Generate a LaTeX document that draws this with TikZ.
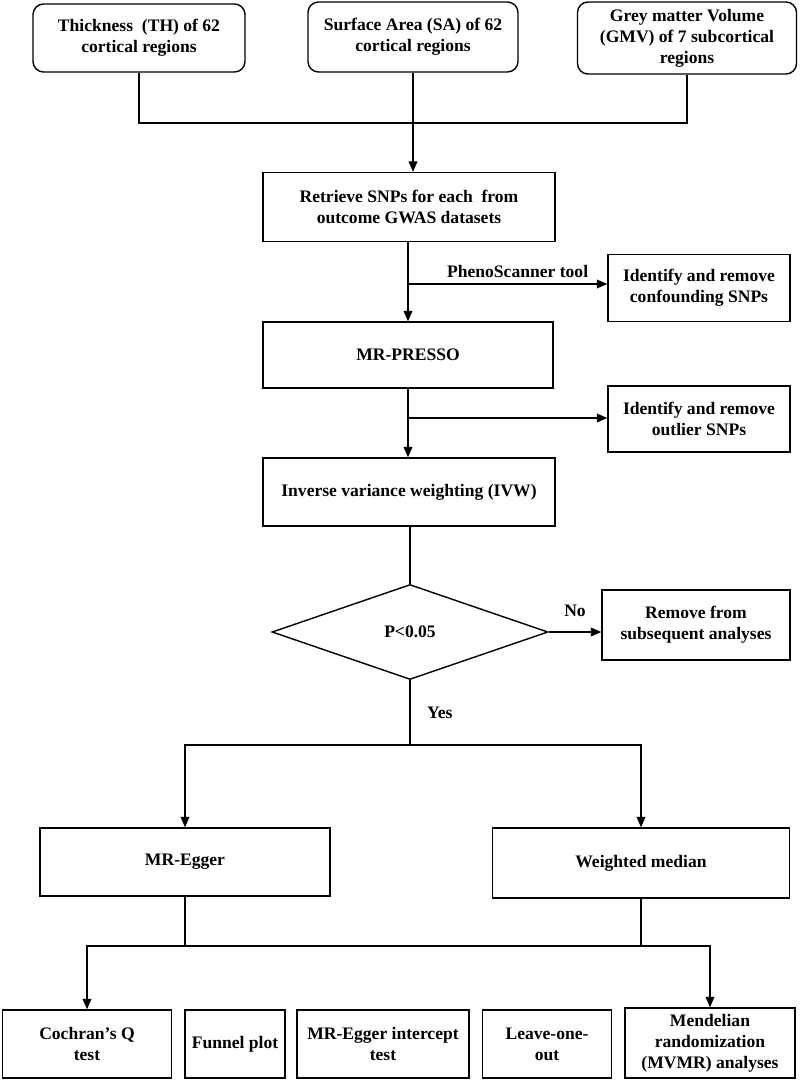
\documentclass[tikz,border=0pt]{standalone}
\usepackage{fontspec}
\setmainfont{Liberation Serif}
\usetikzlibrary{arrows.meta, positioning, shapes.geometric}

\tikzset{
  box/.style={draw, thick, align=center, font=\bfseries\fontsize{10}{12}\selectfont, inner sep=2pt},
  rbox/.style={box, rounded corners=6pt},
  flow/.style={thick, -{Triangle[length=6pt, width=5pt]}},
  line/.style={thick}
}

\begin{document}
\begin{tikzpicture}[x=0.02cm, y=-0.02cm]
        \useasboundingbox (0,0) rectangle (800,1082);

        % Top: the three traits
        \node[rbox, minimum width=212*0.02cm, minimum height=68*0.02cm] (th) at (139,38) {Thickness\ \ (TH) of 62\\cortical regions};
        \node[rbox, minimum width=210*0.02cm, minimum height=70*0.02cm] (sa) at (413,37) {Surface Area (SA) of 62\\cortical regions};
        \node[rbox, minimum width=219*0.02cm, minimum height=72*0.02cm] (gmv) at (687,38) {Grey matter Volume\\(GMV) of 7 subcortical\\regions};

        % Main column
        \node[box, minimum width=292*0.02cm, minimum height=69*0.02cm] (snp) at (409,207) {Retrieve SNPs for each\ \ from\\outcome GWAS datasets};
        \node[box, minimum width=182*0.02cm, minimum height=67*0.02cm] (conf) at (699,288) {Identify and remove\\confounding SNPs};
        \node[box, minimum width=290*0.02cm, minimum height=66*0.02cm] (presso) at (408,355) {MR-PRESSO};
        \node[box, minimum width=182*0.02cm, minimum height=66*0.02cm] (outl) at (699,419) {Identify and remove\\outlier SNPs};
        \node[box, minimum width=292*0.02cm, minimum height=68*0.02cm] (ivw) at (409,492) {Inverse variance weighting (IVW)};
        \node[draw, thick, diamond, aspect=2.9, minimum width=276*0.02cm, minimum height=95*0.02cm, inner sep=0pt, font=\bfseries\fontsize{10}{12}\selectfont] (pval) at (410,632) {P<0.05};
        \node[box, minimum width=188*0.02cm, minimum height=70*0.02cm] (rem) at (696,625) {Remove from\\subsequent analyses};

        % Two methods
        \node[box, minimum width=290*0.02cm, minimum height=68*0.02cm] (egger) at (185,862) {MR-Egger};
        \node[box, minimum width=297*0.02cm, minimum height=70*0.02cm] (wm) at (641,863) {Weighted median};

        % Sensitivity analyses
        \node[box, minimum width=169*0.02cm, minimum height=68*0.02cm] (coch) at (87,1044) {Cochran's Q\\test};
        \node[box, minimum width=100*0.02cm, minimum height=68*0.02cm] (funnel) at (235,1044) {Funnel plot};
        \node[box, minimum width=172*0.02cm, minimum height=68*0.02cm] (inter) at (383,1044) {MR-Egger intercept\\test};
        \node[box, minimum width=129*0.02cm, minimum height=68*0.02cm] (loo) at (547,1044) {Leave-one-\\out};
        \node[box, minimum width=170*0.02cm, minimum height=70*0.02cm] (mvmr) at (710,1043) {Mendelian\\randomization\\(MVMR) analyses};

        % Joins
        \coordinate (j1) at (413,123);
        \draw[line] (th.south) |- (j1) -| (gmv.south);
        \draw[flow] (sa.south) -- (snp.north -| sa.south);
        \coordinate (b1) at (408,284);
        \draw[flow] (snp.south -| presso.north) -- (presso.north);
        \draw[flow] (b1) -- (b1 -| conf.west) node[pos=0.55, above, font=\bfseries\fontsize{10}{12}\selectfont] {PhenoScanner tool};
        \coordinate (b2) at (408,418);
        \draw[flow] (presso.south) -- (ivw.north -| presso.south);
        \draw[flow] (b2) -- (b2 -| outl.west);
        \draw[line] (ivw.south -| pval.north) -- (pval.north);
        \draw[flow] (pval.east) -- (pval.east -| rem.west) node[midway, above=5pt, font=\bfseries\fontsize{10}{12}\selectfont] {No};
        \coordinate (j2) at (410,745);
        \draw[line] (pval.south) -- (j2) node[midway, right=6pt, font=\bfseries\fontsize{10}{12}\selectfont] {Yes};
        \draw[flow] (j2) -| (egger.north);
        \draw[flow] (j2) -| (wm.north);
        \coordinate (j3) at (185,946);
        \draw[line] (egger.south) -- (j3);
        \draw[line] (wm.south) -- (wm.south |- j3);
        \draw[flow] (j3) -| (coch.north);
        \draw[flow] (j3) -| (mvmr.north);
    \end{tikzpicture}
\end{document}
